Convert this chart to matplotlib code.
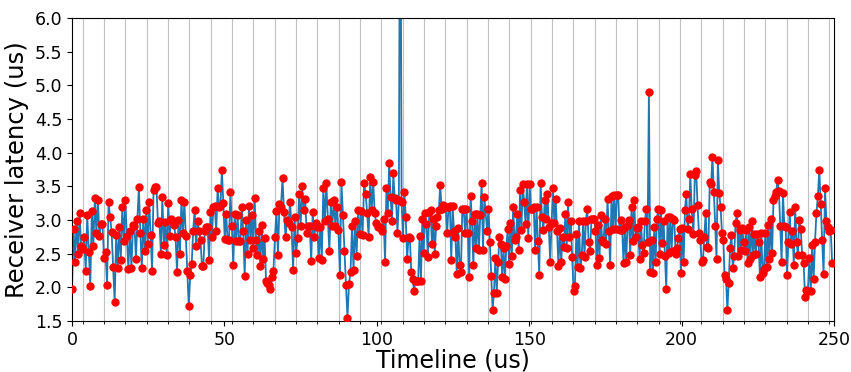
import numpy as np
import matplotlib
matplotlib.use("Agg")
import matplotlib.pyplot as plt

# receiver latency readings (us)
lat_a = [1.98, 2.87, 2.37, 2.99, 2.50, 3.10, 2.61, 2.57, 2.74, 2.24, 3.07, 2.53, 2.02, 3.13, 2.62,
         3.33, 2.81, 3.29, 2.76, 2.94, 2.94, 2.44, 2.53, 2.04, 3.26, 3.05, 2.82, 2.30, 1.78, 2.78,
         2.28, 2.90, 2.40, 3.20, 2.69, 3.29, 2.76, 2.27, 2.84, 2.29, 2.92]
lat_b = [2.91, 2.42, 3.02, 3.49, 2.81, 2.28, 3.02, 2.54, 3.15, 2.64, 3.27, 2.78, 2.25, 3.45, 3.49,
         3.49, 2.95, 2.99, 2.50, 3.34, 2.63, 2.97, 2.48, 3.25, 2.76, 3.02, 2.99, 2.93, 2.74, 2.23,
         3.00, 2.50, 3.30, 2.81, 3.27, 2.76, 2.24, 1.72, 2.18, 2.34, 2.84, 3.15, 2.61, 2.98]
lat_c = [2.84, 2.70, 2.32, 2.32, 2.84, 2.89, 2.89, 2.40, 3.12, 2.74, 3.20, 3.21, 2.83, 3.47, 3.20,
         3.21, 3.74, 3.25, 2.72, 3.09, 2.70, 2.70, 3.42, 2.91, 2.33, 3.09, 2.69, 3.07, 2.69, 2.69,
         3.20, 2.83, 2.17, 3.00, 2.50, 3.21, 2.71, 3.07, 2.58, 3.33, 2.71, 2.48, 2.84, 2.32, 2.93,
         2.42, 2.73, 2.10, 2.06, 2.03]
lat_d = [1.97, 2.15, 2.25, 2.74, 3.14, 2.48, 3.24, 3.20, 3.62, 3.12, 2.75, 3.00, 2.95, 3.27, 2.89,
         2.26, 3.04, 2.51, 2.73, 3.39, 2.91, 3.50, 3.15, 3.31, 2.81, 2.91, 2.91, 2.39, 3.12, 2.75,
         2.95, 2.89, 2.43, 2.90, 2.41, 3.47, 2.98, 3.55, 3.02, 2.54, 3.27, 2.91, 3.29, 2.91, 3.20,
         2.85, 2.18, 3.56, 3.07, 2.54, 2.03, 1.55, 2.05, 2.23, 2.91, 2.26, 2.98, 2.46, 3.15, 2.79,
         3.14, 2.78, 3.55, 3.39, 3.11, 2.74, 3.64, 3.15, 3.57, 3.11, 2.95, 2.90]
lat_e = [2.89, 2.88, 2.84, 3.02, 2.38, 3.47, 3.11, 3.85, 3.34, 2.98, 3.69, 3.32, 3.29, 2.81, 3.29,
         9.50, 3.26, 2.73, 3.42, 3.04, 2.42, 2.74, 2.73, 2.23, 2.13, 1.95, 2.10, 2.10, 2.10, 2.76,
         2.10, 3.01, 2.51, 3.11, 2.94, 2.45, 3.12, 3.15, 2.64, 3.01, 2.50, 2.91, 3.04, 3.15, 3.52,
         3.16, 3.22, 3.20, 3.19, 2.81, 3.19, 3.21, 2.40, 3.21, 2.83, 2.75, 2.20, 2.88, 2.33, 2.23,
         3.16, 3.16, 2.81, 3.16, 2.81, 2.16, 3.36, 2.99, 2.33, 3.09, 2.58, 3.09, 2.56, 3.07, 3.55,
         2.55, 3.34]
lat_f = [2.84, 3.17, 2.68, 2.17, 1.67, 1.92, 2.43, 1.92, 2.38, 2.75, 2.65, 2.15, 2.59, 2.12, 2.61,
         2.86, 2.35, 2.96, 2.46, 3.20, 2.70, 2.75, 3.09, 2.56, 3.45, 2.85, 3.53, 3.26, 2.94, 3.53,
         2.73, 3.54, 3.16, 3.17, 3.20, 2.55, 3.20, 2.69, 2.18, 3.55, 3.05, 2.85, 3.29, 3.01, 3.39,
         2.89, 2.38, 2.96, 3.47, 2.96, 3.31, 2.83, 2.32, 2.88, 2.37, 2.75, 2.60, 3.09, 2.58, 3.26,
         2.75, 2.98, 2.45, 1.94, 2.02, 2.79, 2.30, 2.99, 2.28, 2.48, 2.99, 2.45, 2.99, 3.16, 2.68]
lat_g = [2.54, 3.02, 3.02, 3.01, 2.84, 2.33, 2.93, 2.43, 3.07, 2.70, 2.68, 3.01, 2.64, 3.31, 2.84,
         2.33, 3.36, 2.86, 3.37, 2.86, 3.37, 3.37, 2.85, 3.00, 2.85, 2.36, 2.89, 2.38, 2.93, 3.00,
         2.48, 3.19, 2.69, 3.30, 2.74, 2.88, 2.89, 2.42, 2.99, 2.63, 2.51, 2.99, 3.16, 2.68, 4.90,
         2.23, 2.71, 2.21, 2.89, 2.38, 3.02, 3.17, 2.50, 3.15, 2.66, 2.98, 2.46, 1.97, 3.05, 2.51,
         3.04, 2.54, 3.02, 3.00, 2.49, 2.59, 2.73, 2.86, 2.21, 2.88, 2.37, 3.15, 3.39, 2.86, 3.02,
         3.68, 3.17]
lat_h = [2.79, 3.67, 3.73, 3.22, 2.81, 2.70, 2.38, 2.40, 2.75, 3.11, 2.60, 2.59, 3.57, 3.53, 3.94,
         3.42, 2.91, 2.42, 3.89, 3.40, 3.19, 2.81, 2.70, 2.18, 2.12, 1.66, 2.07, 2.59, 2.78, 2.28,
         2.46, 2.95, 3.10, 2.47, 2.85, 2.56, 2.88, 2.67, 2.54, 2.85, 2.36, 2.89, 2.42, 2.99, 2.48,
         2.79, 2.50, 2.79, 2.67, 2.16, 2.80, 2.21, 2.27, 2.81, 2.30, 2.93, 2.42, 3.02, 2.51, 3.29,
         3.36, 3.42, 3.59, 3.43, 2.91, 2.38, 3.40, 2.91, 2.89, 2.18, 2.68, 3.12, 2.65, 2.84, 2.33,
         3.20, 2.68, 2.48, 3.00]
lat_i = [2.86, 2.48, 2.36, 1.86, 1.96, 1.95, 2.43, 1.94, 2.63, 2.12, 2.68, 3.11, 3.36, 3.74, 3.24,
         2.71, 2.20, 3.47, 2.98, 2.89, 2.84, 2.85, 2.36]

pieces = [lat_a, lat_b, lat_c, lat_d, lat_e, lat_f, lat_g, lat_h, lat_i]
# timeline span (us) of each piece
t_start = [0.0, 20.5, 41.7, 65.1, 100.9, 136.2, 170.0, 203.9, 239.1]
t_end = [20.0, 41.2, 64.6, 100.3, 135.3, 169.5, 203.3, 238.6, 249.4]

t = np.concatenate([np.linspace(a, b, len(p)) for a, b, p in zip(t_start, t_end, pieces)])
lat = np.concatenate(pieces)

# frame boundaries drawn as grid
frame_marks = np.arange(3.5, 250, 7)

fig = plt.figure(figsize=(8.51, 3.72), dpi=100)
ax = fig.add_axes([0.0846, 0.137, 0.8954, 0.815])
ax.plot(t, lat, color='#1f77b4', lw=1.3, zorder=2)
ax.plot(t, lat, 'o', color='red', ms=5, zorder=3)

ax.set_xlim(0, 250)
ax.set_ylim(1.5, 6.0)
ax.set_yticks(np.arange(1.5, 6.01, 0.5))
ax.set_xticks(np.arange(0, 251, 50))
ax.set_xticks(frame_marks, minor=True)
ax.grid(which='minor', axis='x', color='#c0c0c0', lw=0.8)
ax.tick_params(axis='both', which='major', labelsize=12.5)
ax.set_xlabel('Timeline (us)', fontsize=17, labelpad=0)
ax.set_ylabel('Receiver latency (us)', fontsize=17.5)

fig.savefig('out.png', dpi=100)
